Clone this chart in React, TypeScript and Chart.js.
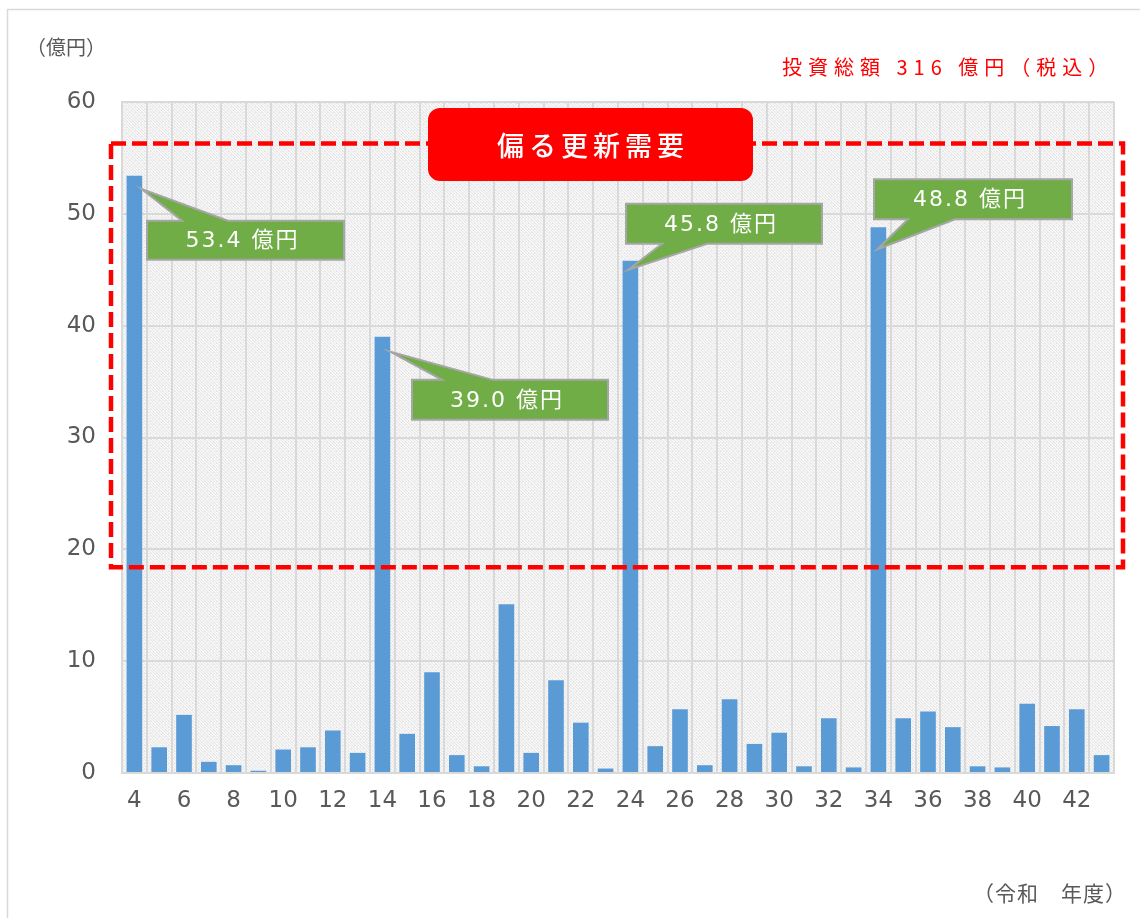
import React, { useEffect, useRef } from 'react';
import { Chart, registerables } from 'chart.js';

Chart.register(...registerables);

// ---- data ----
const categories = ['4','5','6','7','8','9','10','11','12','13','14','15','16','17','18','19','20','21','22','23','24','25','26','27','28','29','30','31','32','33','34','35','36','37','38','39','40','41','42','43'];
const investment = [53.4, 2.3, 5.2, 1.0, 0.7, 0.2, 2.1, 2.3, 3.8, 1.8, 39.0, 3.5, 9.0, 1.6, 0.6, 15.1, 1.8, 8.3, 4.5, 0.4, 45.8, 2.4, 5.7, 0.7, 6.6, 2.6, 3.6, 0.6, 4.9, 0.5, 48.8, 4.9, 5.5, 4.1, 0.6, 0.5, 6.2, 4.2, 5.7, 1.6];
const yTicks = [0, 10, 20, 30, 40, 50, 60];
const peakIndex = [0, 10, 20, 30];
const peakLabels = ['53.4 億円', '39.0 億円', '45.8 億円', '48.8 億円'];
const unitLabel = '（億円）';
const xAxisLabel = '（令和　年度）';
const totalLabel = '投資総額 316 億円（税込）';
const titleLabel = '偏る更新需要';
const highlightRange = [18.4, 56.3];

// callout geometry relative to the bar (center x, top y)
const callouts = [
  { tip: [7, 13], box: [12.6, 45, 197, 39], edge: 'top', base: [47.6, 93.6] },
  { tip: [8, 15], box: [29.6, 43, 196, 40], edge: 'top', base: [59.6, 110.6] },
  { tip: [-2, 9], box: [-4.4, -57, 196, 40], edge: 'bottom', base: [31.6, 76.6] },
  { tip: [-1, 22], box: [-4.4, -48, 198, 40], edge: 'bottom', base: [29.6, 76.6] },
];

const TICK_FONT = '"DejaVu Sans", "Noto Sans CJK JP", sans-serif';
const JP_FONT = '"Noto Sans CJK JP", sans-serif';
const GRAY = '#595959';

function makePattern(ctx: CanvasRenderingContext2D) {
  const c = document.createElement('canvas');
  c.width = 6; c.height = 6;
  const g = c.getContext('2d')!;
  g.fillStyle = '#f7f7f7';
  g.fillRect(0, 0, 6, 6);
  const dots = [
    [0,0],[1,1],[3,0],[4,1],[2,2],[5,2],[0,3],[3,3],[1,4],[4,4],[2,5],[5,5],[0,1],[3,4]
  ];
  g.fillStyle = '#e6e6e6';
  dots.forEach(([x, y]) => g.fillRect(x, y, 1, 1));
  return ctx.createPattern(c, 'repeat');
}

function roundRect(ctx: CanvasRenderingContext2D, x: number, y: number, w: number, h: number, r: number) {
  ctx.beginPath();
  ctx.moveTo(x + r, y);
  ctx.arcTo(x + w, y, x + w, y + h, r);
  ctx.arcTo(x + w, y + h, x, y + h, r);
  ctx.arcTo(x, y + h, x, y, r);
  ctx.arcTo(x, y, x + w, y, r);
  ctx.closePath();
}

function spacedText(ctx: any, text: string, x: number, y: number, spacing: number, align: 'left' | 'center') {
  ctx.letterSpacing = spacing + 'px';
  const w = ctx.measureText(text).width - spacing;
  ctx.textAlign = 'left';
  const sx = align === 'center' ? x - w / 2 : x;
  ctx.fillText(text, sx, y);
  ctx.letterSpacing = '0px';
}

const annotationPlugin = {
  id: 'annotations',
  beforeDraw(chart: any) {
    const { ctx, chartArea: a } = chart;
    ctx.save();
    // outer frame
    ctx.strokeStyle = '#d9d9d9';
    ctx.lineWidth = 1.5;
    ctx.beginPath();
    ctx.moveTo(7.5, 918);
    ctx.lineTo(7.5, 9.5);
    ctx.lineTo(1140, 9.5);
    ctx.stroke();
    // textured plot background
    ctx.fillStyle = makePattern(ctx) || '#eeeeee';
    ctx.fillRect(a.left, a.top, a.right - a.left, a.bottom - a.top);
    // static texts
    ctx.fillStyle = GRAY;
    ctx.textBaseline = 'middle';
    ctx.font = '20px ' + JP_FONT;
    spacedText(ctx, unitLabel, 26, 47, 0, 'left');
    ctx.font = '21px ' + JP_FONT;
    spacedText(ctx, xAxisLabel, 973, 893, 1, 'left');
    ctx.fillStyle = '#ff0000';
    ctx.font = '20px ' + JP_FONT;
    spacedText(ctx, totalLabel, 782, 67, 6, 'left');
    ctx.restore();
  },
  afterDatasetsDraw(chart: any) {
    const { ctx, chartArea: a, scales } = chart;
    const y = scales.y;
    const meta = chart.getDatasetMeta(0);
    ctx.save();
    // dashed highlight frame
    const top = y.getPixelForValue(highlightRange[1]);
    const bottom = y.getPixelForValue(highlightRange[0]);
    ctx.strokeStyle = '#ff0000';
    ctx.lineWidth = 4.5;
    ctx.setLineDash([15, 6]);
    ctx.strokeRect(a.left - 11, top, a.right - a.left + 20, bottom - top);
    ctx.setLineDash([]);

    // callouts
    peakIndex.forEach((idx, i) => {
      const bar = meta.data[idx];
      const cx = bar.x, ty = bar.y;
      const c = callouts[i];
      const L = cx + c.box[0], T = ty + c.box[1], W = c.box[2], H = c.box[3];
      const R = L + W, B = T + H;
      const tx = cx + c.tip[0], tyy = ty + c.tip[1];
      const b1 = cx + c.base[0], b2 = cx + c.base[1];
      ctx.beginPath();
      if (c.edge === 'top') {
        ctx.moveTo(L, T); ctx.lineTo(b1, T); ctx.lineTo(tx, tyy); ctx.lineTo(b2, T);
        ctx.lineTo(R, T); ctx.lineTo(R, B); ctx.lineTo(L, B);
      } else {
        ctx.moveTo(L, T); ctx.lineTo(R, T); ctx.lineTo(R, B); ctx.lineTo(b2, B);
        ctx.lineTo(tx, tyy); ctx.lineTo(b1, B); ctx.lineTo(L, B);
      }
      ctx.closePath();
      ctx.fillStyle = '#70ad47';
      ctx.fill();
      ctx.strokeStyle = '#a6a6a6';
      ctx.lineWidth = 2;
      ctx.lineJoin = 'miter';
      ctx.stroke();
      ctx.fillStyle = '#ffffff';
      ctx.font = '22px ' + TICK_FONT;
      ctx.textBaseline = 'middle';
      spacedText(ctx, peakLabels[i], (L + R) / 2 - 4, (T + B) / 2 + 1, 2, 'center');
    });

    // title box
    const tl = a.left + 306, tt = a.top + 6, tw = 325, th = 73;
    roundRect(ctx, tl, tt, tw, th, 12);
    ctx.fillStyle = '#ff0000';
    ctx.fill();
    ctx.fillStyle = '#ffffff';
    ctx.font = '500 27px ' + JP_FONT;
    ctx.textBaseline = 'middle';
    spacedText(ctx, titleLabel, tl + tw / 2, tt + th / 2 + 1, 5, 'center');
    ctx.restore();
  },
};

export default function App() {
  const ref = useRef<HTMLCanvasElement>(null);
  useEffect(() => {
    if (!ref.current) return;
    const chart = new Chart(ref.current, {
      type: 'bar',
      data: {
        labels: categories,
        datasets: [{
          data: investment,
          backgroundColor: '#5b9bd5',
          borderWidth: 0,
          barPercentage: 0.63,
          categoryPercentage: 1,
        }],
      },
      options: {
        animation: false,
        responsive: false,
        devicePixelRatio: 1,
        layout: { padding: { left: 0, right: 26, top: 102, bottom: 85 } },
        plugins: { legend: { display: false }, tooltip: { enabled: false } },
        scales: {
          x: {
            afterFit: (s: any) => { s.height = 60; },
            grid: { color: '#d9d9d9', lineWidth: 2, drawTicks: false, offset: true },
            border: { color: '#d9d9d9', width: 2 },
            ticks: {
              autoSkip: false,
              maxRotation: 0,
              padding: 14,
              color: GRAY,
              font: { family: TICK_FONT, size: 23 },
              callback: (_v: any, i: number) => (i % 2 === 0 ? categories[i] : ''),
            },
          },
          y: {
            min: 0,
            max: 60,
            afterFit: (s: any) => { s.width = 122; },
            afterBuildTicks: (s: any) => { s.ticks = yTicks.map((v) => ({ value: v })); },
            grid: { color: '#d9d9d9', lineWidth: 2, drawTicks: false },
            border: { color: '#d9d9d9', width: 2 },
            ticks: {
              padding: 26,
              color: GRAY,
              font: { family: TICK_FONT, size: 23 },
            },
          },
        },
      },
      plugins: [annotationPlugin],
    });
    return () => chart.destroy();
  }, []);
  return (
    <div style={{ position: 'fixed', left: 0, top: 0, width: 1140, height: 918, background: '#ffffff' }}>
      <canvas ref={ref} width={1140} height={918} style={{ display: 'block' }} />
    </div>
  );
}
